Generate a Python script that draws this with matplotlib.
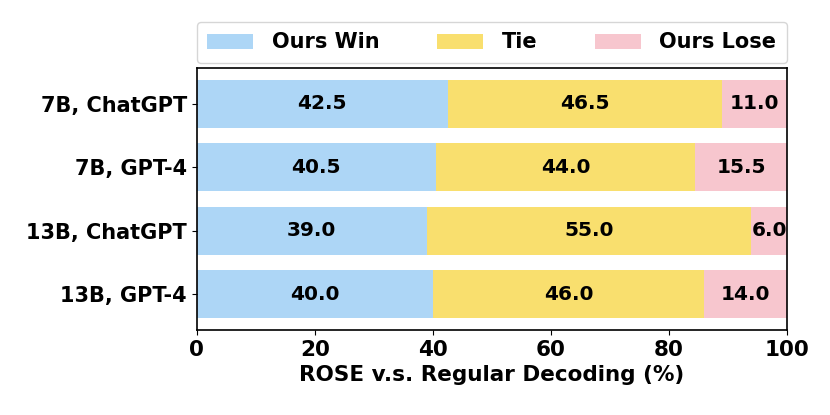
import matplotlib
matplotlib.use("Agg")
import matplotlib.pyplot as plt
import numpy as np

# data
labels = ["7B, ChatGPT", "7B, GPT-4", "13B, ChatGPT", "13B, GPT-4"]
win = [42.5, 40.5, 39.0, 40.0]
tie = [46.5, 44.0, 55.0, 46.0]
lose = [11.0, 15.5, 6.0, 14.0]
series_names = ["Ours Win", "Tie", "Ours Lose"]
colors = ["#add6f6", "#f9df6e", "#f7c6ce"]

plt.rcParams["font.family"] = "DejaVu Sans"
plt.rcParams["font.weight"] = "bold"

fig = plt.figure(figsize=(8.3, 4.15), dpi=100)
ax = fig.add_axes([0.237, 0.205, 0.711, 0.631])

y = np.arange(len(labels))
left = np.zeros(len(labels))
for vals, name, c in zip([win, tie, lose], series_names, colors):
    bars = ax.barh(y, vals, left=left, height=0.75, color=c, label=name)
    for b, v in zip(bars, vals):
        ax.text(b.get_x() + b.get_width() / 2, b.get_y() + b.get_height() / 2,
                f"{v:.1f}", ha="center", va="center", fontsize=14.5, fontweight="bold")
    left += np.array(vals)

ax.set_yticks(y)
ax.set_yticklabels(labels, fontsize=15, fontweight="bold")
ax.invert_yaxis()
ax.set_xlim(0, 100)
ax.set_xticks([0, 20, 40, 60, 80, 100])
ax.tick_params(axis="x", labelsize=15.5)
ax.set_xlabel("ROSE v.s. Regular Decoding (%)", fontsize=15.5, fontweight="bold")
for s in ax.spines.values():
    s.set_linewidth(1.2)

ax.legend(loc="lower left", bbox_to_anchor=(0, 1.02, 1, 0.2), mode="expand",
          ncol=3, fontsize=15, borderaxespad=0, borderpad=0.5, handlelength=2.2,
          handleheight=0.75, handletextpad=0.9, frameon=True)

fig.savefig("out.png", dpi=100)
